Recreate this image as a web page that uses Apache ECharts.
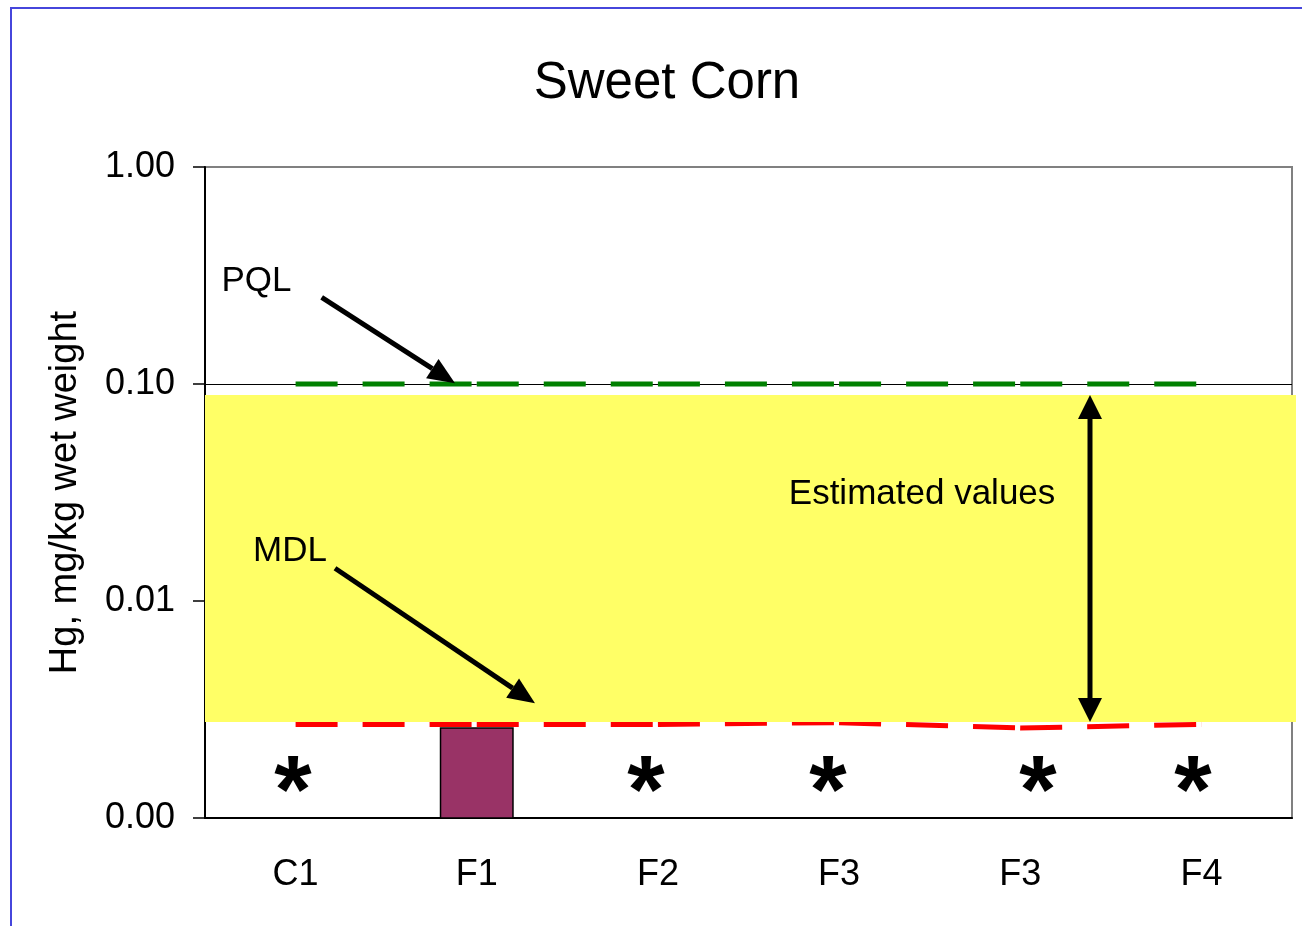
<!DOCTYPE html>
<html><head><meta charset="utf-8">
<script src="https://cdn.jsdelivr.net/npm/echarts@6/dist/echarts.min.js"></script>
<style>html,body{margin:0;padding:0;background:#fff}#c{width:1302px;height:926px}</style>
</head><body><div id="c"></div>
<script>
// ---- data ----
const categories = ['C1', 'F1', 'F2', 'F3', 'F3', 'F4'];
const hgValues = [null, 0.0026, null, null, null, null];            // measured Hg (bar)
const pqlValues = [0.1, 0.1, 0.1, 0.1, 0.1, 0.1];                    // PQL line
const mdlValues = [0.0027, 0.0027, 0.0027, 0.00275, 0.0026, 0.0027]; // MDL line
const yAxisMin = 0.001, yAxisMax = 1;
// annotation positions (x in category units 0..6, y in mg/kg)
const estimatedBand = [0, 0.00277, 6.022, 0.0889];
const nonDetectX = [0.486, 2.434, 3.439, 4.598, 5.453];
const nonDetectY = 0.00158;
const singleArrows = [[0.644, 0.2508, 1.380, 0.1007], [0.7176, 0.01415, 1.8215, 0.00338]];
const doubleArrows = [[4.885, 0.0889, 4.885, 0.00277]];
const noteText = ['PQL', 'MDL', 'Estimated values'];
const noteX = [0.284, 0.469, 3.958];
const noteY = [0.2983, 0.0170, 0.0311];

const FONT = '"Liberation Sans", Arial, sans-serif';
const chart = echarts.init(document.getElementById('c'), null, {renderer: 'canvas'});
const dashPattern = [42, 25, 42, 25, 42, 5.17];

function arrowHead(tip, from, L, W) {
  const dx = tip[0] - from[0], dy = tip[1] - from[1];
  const len = Math.hypot(dx, dy) || 1;
  const ux = dx / len, uy = dy / len;
  const bx = tip[0] - ux * L, by = tip[1] - uy * L;
  const nx = -uy * W / 2, ny = ux * W / 2;
  return {base: [bx, by], points: [[tip[0], tip[1]], [bx + nx, by + ny], [bx - nx, by - ny]]};
}
function arrowRenderer(both, L, W) {
  return (params, api) => {
    const p1 = api.coord([api.value(0), api.value(1)]);
    const p2 = api.coord([api.value(2), api.value(3)]);
    const h2 = arrowHead(p2, p1, L, W);
    const children = [];
    let s = p1;
    if (both) {
      const h1 = arrowHead(p1, p2, L, W);
      s = h1.base;
      children.push({type: 'polygon', shape: {points: h1.points}, style: {fill: '#000'}});
    }
    children.push({type: 'line', shape: {x1: s[0], y1: s[1], x2: h2.base[0], y2: h2.base[1]},
                   style: {stroke: '#000', lineWidth: 5}});
    children.push({type: 'polygon', shape: {points: h2.points}, style: {fill: '#000'}});
    return {type: 'group', children};
  };
}

const option = {
  animation: false,
  backgroundColor: '#fff',
  title: {
    text: 'Sweet Corn', left: 662, top: 53, textAlign: 'center',
    textStyle: {fontFamily: FONT, fontSize: 51, fontWeight: 'normal', color: '#000'}
  },
  graphic: [{
    type: 'rect', z: 0, silent: true,
    shape: {x: 11, y: 8, width: 1400, height: 1000},
    style: {fill: 'none', stroke: '#4646dc', lineWidth: 2}
  }],
  grid: {left: 205, right: 10, top: 167, bottom: 108, show: true, borderColor: '#808080', borderWidth: 2},
  xAxis: [{
    type: 'category', data: categories, boundaryGap: true,
    axisLine: {lineStyle: {color: '#000', width: 2}},
    axisTick: {length: 12, interval: 0, lineStyle: {color: '#000', width: 1.5}},
    axisLabel: {margin: 39, interval: 0, fontFamily: FONT, fontSize: 36, color: '#000'},
    splitLine: {show: false}
  }, {
    type: 'value', min: 0, max: 6, show: false
  }],
  yAxis: {
    type: 'log', logBase: 10, min: yAxisMin, max: yAxisMax,
    name: 'Hg, mg/kg wet weight', nameLocation: 'middle', nameRotate: 90, nameGap: 120,
    nameTextStyle: {fontFamily: FONT, fontSize: 38, color: '#000'},
    axisLine: {show: true, lineStyle: {color: '#000', width: 2}},
    axisTick: {show: true, length: 12, lineStyle: {color: '#000', width: 1.5}},
    minorTick: {show: false},
    axisLabel: {margin: 30, padding: [4, 0, 0, 0], fontFamily: FONT, fontSize: 36, color: '#000',
                formatter: v => Number(v).toFixed(2)},
    splitLine: {show: true, showMinLine: false, showMaxLine: false, lineStyle: {color: '#000', width: 1}}
  },
  series: [
    {
      type: 'custom', name: 'Hg', xAxisIndex: 0, yAxisIndex: 0, z: 1, silent: true,
      data: hgValues.map((v, i) => v == null ? null : [i, v]).filter(Boolean),
      encode: {x: 0, y: 1},
      renderItem: (params, api) => {
        const xi = api.value(0), v = api.value(1);
        const top = api.coord([xi, v]);
        const base = api.coord([xi, yAxisMin]);
        const w = api.size([1, 1], [xi, v])[0] * 0.4;
        return {type: 'rect', shape: {x: top[0] - w / 2, y: top[1], width: w, height: base[1] - top[1]},
                style: {fill: '#993366', stroke: '#000', lineWidth: 1.5}};
      }
    },
    {
      type: 'line', name: 'MDL', data: mdlValues, symbol: 'none', showSymbol: false, z: 2, silent: true,
      lineStyle: {color: '#ff0000', width: 5, type: dashPattern, cap: 'butt'}
    },
    {
      type: 'custom', name: 'band', xAxisIndex: 1, yAxisIndex: 0, z: 3, silent: true, clip: false,
      data: [estimatedBand], encode: {x: [0, 2], y: [1, 3]},
      renderItem: (params, api) => {
        const a = api.coord([api.value(0), api.value(1)]);
        const b = api.coord([api.value(2), api.value(3)]);
        return {type: 'rect', shape: {x: Math.min(a[0], b[0]), y: Math.min(a[1], b[1]),
                width: Math.abs(b[0] - a[0]), height: Math.abs(b[1] - a[1])}, style: {fill: '#ffff66'}};
      }
    },
    {
      type: 'line', name: 'PQL', data: pqlValues, symbol: 'none', showSymbol: false, z: 4, silent: true,
      lineStyle: {color: '#008000', width: 5, type: dashPattern, cap: 'butt'}
    },
    {
      type: 'custom', name: 'arrows', xAxisIndex: 1, yAxisIndex: 0, z: 5, silent: true, clip: false,
      data: singleArrows, encode: {x: [0, 2], y: [1, 3]},
      renderItem: arrowRenderer(false, 27, 23)
    },
    {
      type: 'custom', name: 'arrows2', xAxisIndex: 1, yAxisIndex: 0, z: 5, silent: true, clip: false,
      data: doubleArrows, encode: {x: [0, 2], y: [1, 3]},
      renderItem: arrowRenderer(true, 24, 24)
    },
    {
      type: 'custom', name: 'notes', xAxisIndex: 1, yAxisIndex: 0, z: 6, silent: true, clip: false,
      data: noteX.map((x, i) => [x, noteY[i]]), encode: {x: 0, y: 1},
      renderItem: (params, api) => {
        const p = api.coord([api.value(0), api.value(1)]);
        return {type: 'text', x: p[0], y: p[1], style: {text: noteText[params.dataIndex], fill: '#000',
                font: '35px ' + FONT, align: 'center', verticalAlign: 'middle'}};
      }
    },
    {
      type: 'custom', name: 'nd', xAxisIndex: 1, yAxisIndex: 0, z: 6, silent: true, clip: false,
      data: nonDetectX.map(x => [x, nonDetectY]), encode: {x: 0, y: 1},
      renderItem: (params, api) => {
        const p = api.coord([api.value(0), api.value(1)]);
        return {type: 'text', x: p[0], y: p[1] + 21, style: {text: '*', fill: '#000',
                font: 'bold 96px ' + FONT, align: 'center', verticalAlign: 'middle'}};
      }
    }
  ]
};
chart.setOption(option);
</script>
</body></html>
